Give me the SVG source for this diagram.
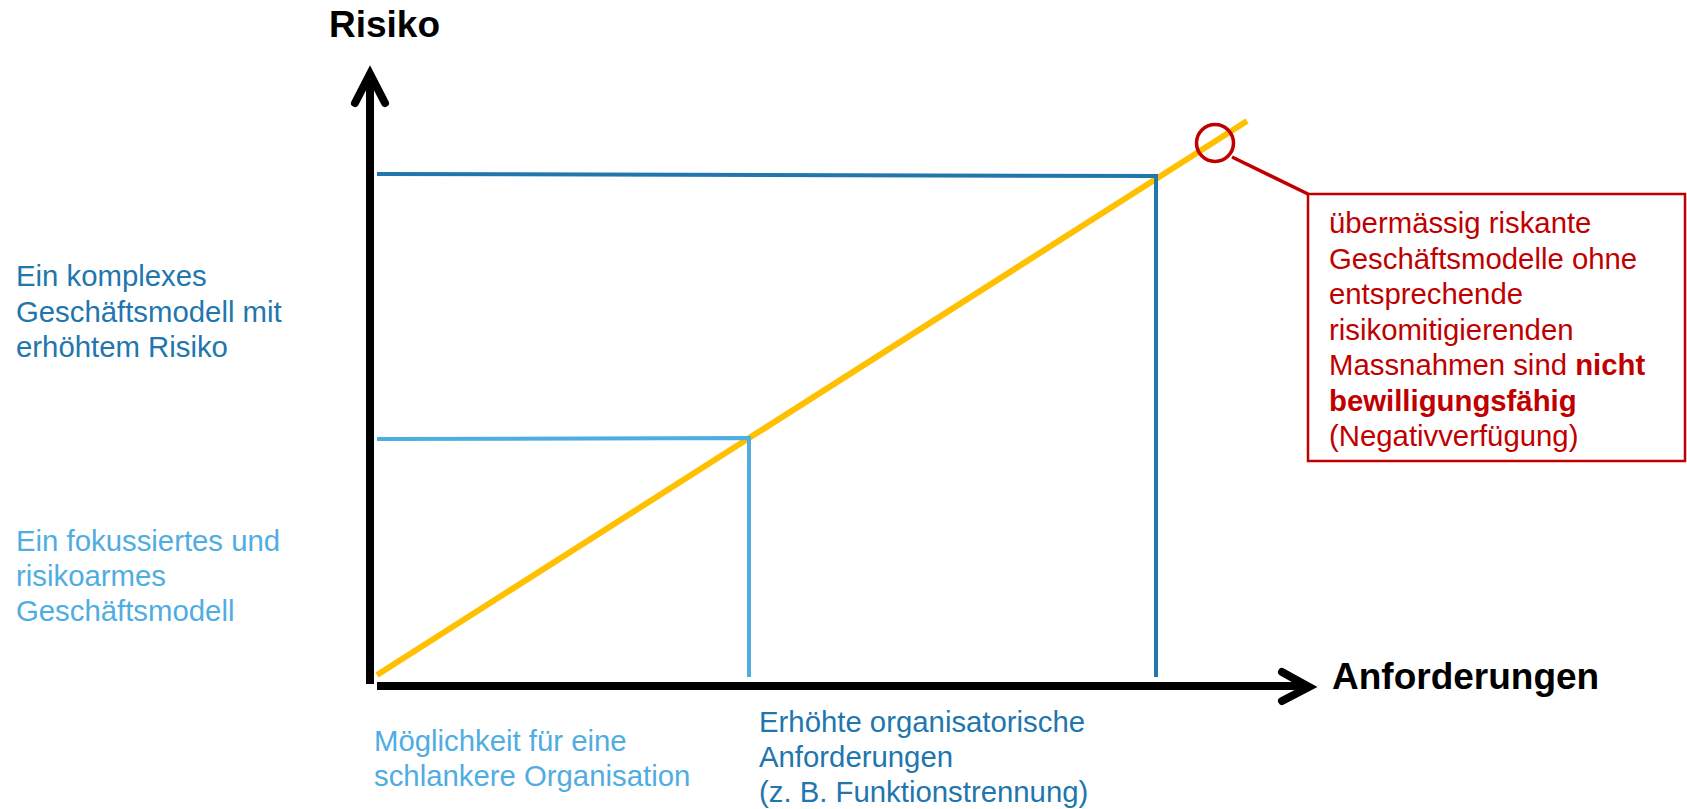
<svg xmlns="http://www.w3.org/2000/svg" width="1687" height="809" viewBox="0 0 1687 809">
  <style>
    .lbl { font-family: "Liberation Sans", Arial, sans-serif; font-size: 29.33px; }
    .title { font-family: "Liberation Sans", Arial, sans-serif; font-size: 37px; font-weight: bold; fill: #000; }
    .dark { fill: #2176AE; }
    .light { fill: #4FADE2; }
    .red { fill: #C00000; }
    .axis { stroke: #000; stroke-width: 8; fill: none; }
    .head { stroke: #000; stroke-width: 8; fill: none; stroke-linecap: round; stroke-linejoin: miter; }
  </style>
  <rect width="1687" height="809" fill="#fff"/>

  <!-- axes -->
  <g id="axes">
    <line class="axis" x1="370" y1="684" x2="370" y2="76"/>
    <polyline class="head" points="355,103 370,74 385,103"/>
    <line class="axis" x1="377" y1="686" x2="1306" y2="686"/>
    <polyline class="head" points="1282,672 1309,687 1282,701"/>
    <text class="title" x="329" y="37">Risiko</text>
    <text class="title" x="1332" y="689">Anforderungen</text>
  </g>

  <!-- risk / requirements line -->
  <g id="trend">
    <line x1="377" y1="675" x2="1247" y2="121" stroke="#FFC000" stroke-width="6"/>
  </g>

  <!-- guide lines to the two business models -->
  <g id="connectors">
    <polyline points="377,439 749,438 749,677" fill="none" stroke="#4FADE2" stroke-width="4"/>
    <polyline points="377,174 1156,176 1156,677" fill="none" stroke="#2176AE" stroke-width="4"/>
    <line x1="1232" y1="157" x2="1308" y2="194" stroke="#C00000" stroke-width="3.5"/>
  </g>

  <g id="marker-circle">
    <circle cx="1215" cy="143" r="18.5" fill="none" stroke="#C00000" stroke-width="3.5"/>
  </g>

  <g id="note-box">
    <rect x="1308" y="194" width="377" height="267" fill="#fff" stroke="#C00000" stroke-width="2.5"/>
    <text class="lbl red" x="1329" y="233">übermässig riskante</text>
    <text class="lbl red" x="1329" y="268.5">Geschäftsmodelle ohne</text>
    <text class="lbl red" x="1329" y="304">entsprechende</text>
    <text class="lbl red" x="1329" y="339.5">risikomitigierenden</text>
    <text class="lbl red" x="1329" y="375">Massnahmen sind <tspan font-weight="bold">nicht</tspan></text>
    <text class="lbl red" x="1329" y="410.5" font-weight="bold">bewilligungsfähig</text>
    <text class="lbl red" x="1329" y="446">(Negativverfügung)</text>
  </g>

  <g id="label-complex">
    <text class="lbl dark" x="16" y="286">Ein komplexes</text>
    <text class="lbl dark" x="16" y="321.5">Geschäftsmodell mit</text>
    <text class="lbl dark" x="16" y="357">erhöhtem Risiko</text>
  </g>

  <g id="label-focused">
    <text class="lbl light" x="16" y="551">Ein fokussiertes und</text>
    <text class="lbl light" x="16" y="586">risikoarmes</text>
    <text class="lbl light" x="16" y="621">Geschäftsmodell</text>
  </g>

  <g id="label-lean">
    <text class="lbl light" x="374" y="751">Möglichkeit für eine</text>
    <text class="lbl light" x="374" y="786">schlankere Organisation</text>
  </g>

  <g id="label-requirements">
    <text class="lbl dark" x="759" y="732">Erhöhte organisatorische</text>
    <text class="lbl dark" x="759" y="767">Anforderungen</text>
    <text class="lbl dark" x="759" y="802">(z. B. Funktionstrennung)</text>
  </g>
</svg>
